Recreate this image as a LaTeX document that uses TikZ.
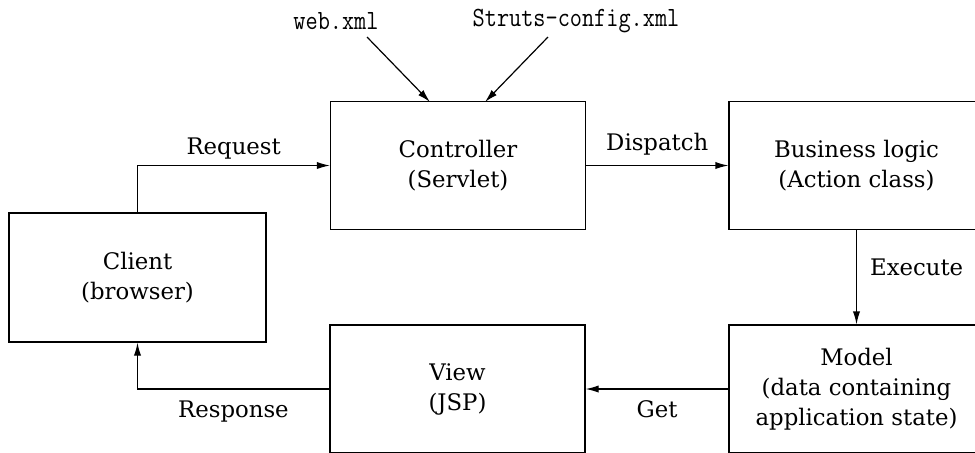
\documentclass[tikz,border=0pt]{standalone}
\usepackage{fontspec}
\setmainfont{DejaVu Serif}
\setmonofont{Latin Modern Mono}
\usetikzlibrary{arrows.meta}
\newcommand{\tallmono}[1]{\scalebox{1}[1.18]{\ttfamily #1}}
\begin{document}
\begin{tikzpicture}[x=0.5pt,y=-0.5pt,
  box/.style={draw, line width=0.6pt, minimum width=127.5pt, minimum height=64pt, inner sep=0pt, align=center, font=\fontsize{11.4}{15}\selectfont},
  conn/.style={line width=0.6pt, -{Latex[length=6.5pt,width=3.6pt]}},
  lbl/.style={font=\fontsize{11.4}{15}\selectfont, inner sep=0pt, anchor=base},
  mono/.style={font=\fontsize{11.8}{14}\selectfont, inner sep=0pt}]
\useasboundingbox (0,0) rectangle (975,452);
\clip (0,0) rectangle (975,452);
\node[box] (ctrl) at (458,165.5) {Controller\\(Servlet)};
\node[box] (biz) at (856.5,165.5) {Business logic\\(Action class)};
\node[box, minimum width=128.5pt, minimum height=64.5pt] (client) at (137.5,277.5) {Client\\(browser)};
\node[box] (view) at (457.5,389) {View\\(JSP)};
\node[box] (model) at (856.5,389) {Model\\(data containing\\application state)};
\node[mono] (web) at (336,21) {\tallmono{web.xml}};
\node[mono] (struts) at (576,21) {\tallmono{Struts-config.xml}};
\coordinate (webs) at (367,37);
\coordinate (webe) at (430,102);
\coordinate (strs) at (548,37);
\coordinate (stre) at (485,102);
\draw[conn] (webs) -- (webe);
\draw[conn] (strs) -- (stre);
\draw[conn] (client.north) |- (ctrl.west) node[lbl, pos=0.75, yshift=5.5pt] {Request};
\draw[conn] (ctrl.east) -- (biz.west) node[lbl, midway, yshift=7.5pt] {Dispatch};
\draw[conn] (biz.south) -- (model.north) node[lbl, pos=0.4, anchor=west, xshift=6.5pt] {Execute};
\draw[conn] (model.west) -- (view.east) node[lbl, midway, yshift=-14pt] {Get};
\draw[conn] (view.west) -| (client.south) node[lbl, pos=0.25, yshift=-14pt] {Response};
\end{tikzpicture}
\end{document}
